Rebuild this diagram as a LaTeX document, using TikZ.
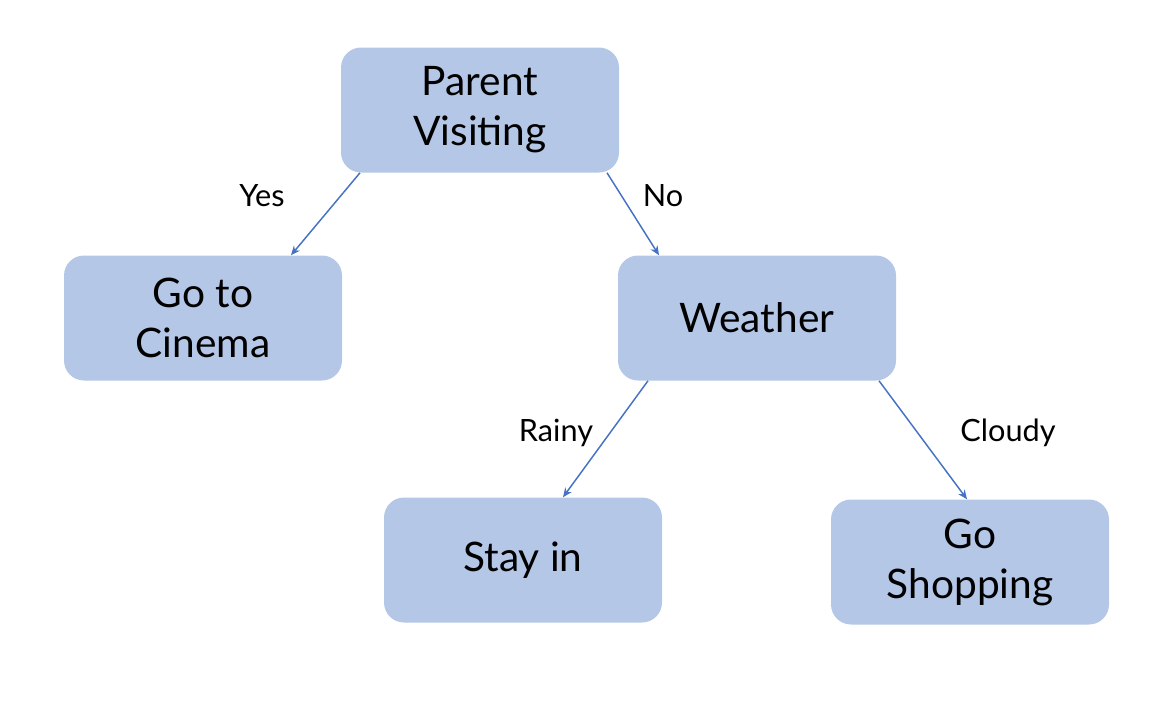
\documentclass[tikz,border=0pt]{standalone}
\usepackage{fontspec}
\setmainfont{Lato}
\usetikzlibrary{arrows.meta}

\definecolor{boxfill}{HTML}{B4C7E7}
\definecolor{linkblue}{HTML}{4472C4}

\begin{document}
\begin{tikzpicture}[x=0.75pt, y=-0.75pt, >={Stealth[length=7pt,width=6pt]},
  decision/.style={fill=boxfill, rounded corners=15pt, minimum width=208.5pt,
    minimum height=93.75pt, align=center, inner sep=0pt,
    font=\fontsize{30.5}{37.5}\selectfont},
  link/.style={->, linkblue, line width=1.1pt},
  answer/.style={font=\fontsize{23}{27}\selectfont}]
  \useasboundingbox (0,0) rectangle (1176,722);

  % Boxes
  \node[decision] (visit)   at (480,110) {Parent\\Visiting};
  \node[decision] (cinema)  at (203,318) {Go to\\Cinema};
  \node[decision] (weather) at (757,318) {Weather};
  \node[decision] (stay)    at (523,560) {Stay in};
  \node[decision] (shop)    at (970,562) {Go\\Shopping};

  % Links
  \draw[link] ([xshift=-90pt]visit.south) -- ([xshift=66pt]cinema.north);
  \draw[link] ([xshift=95.25pt]visit.south) -- ([xshift=-73.5pt]weather.north);
  \draw[link] ([xshift=-81.75pt]weather.south) -- ([xshift=30pt]stay.north);
  \draw[link] ([xshift=91.5pt]weather.south) -- ([xshift=-2.25pt]shop.north);

  % Answers
  \node[answer] (yes)    at (262,196) {Yes};
  \node[answer] (no)     at (663,196) {No};
  \node[answer] (rainy)  at (556,433) {Rainy};
  \node[answer] (cloudy) at (1008,433) {Cloudy};

\end{tikzpicture}
\end{document}
